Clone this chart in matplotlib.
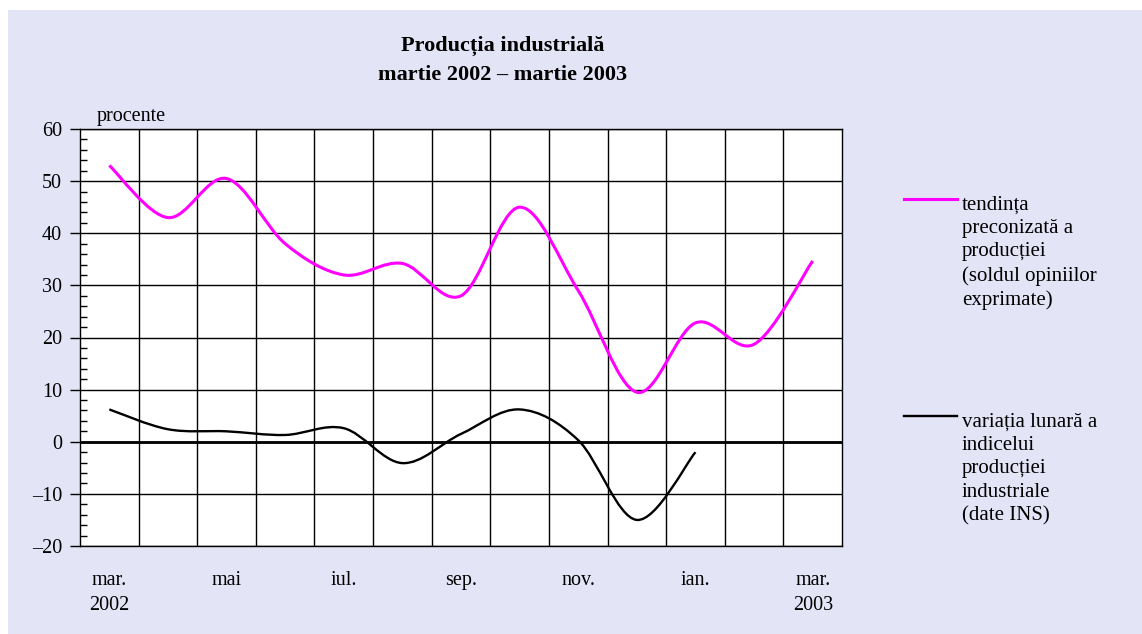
import numpy as np
import matplotlib
matplotlib.use("Agg")
from matplotlib import pyplot as plt
from matplotlib.path import Path
import matplotlib.patches as patches
from matplotlib.lines import Line2D

plt.rcParams['font.family'] = ['Liberation Serif', 'DejaVu Serif']

# data, months mar. 2002 .. mar. 2003
months = ['mar.\n2002', 'apr.', 'mai', 'iun.', 'iul.', 'aug.', 'sep.', 'oct.',
          'nov.', 'dec.', 'ian.', 'feb.', 'mar.\n2003']
tendinta = [53.0, 43.0, 50.5, 38.0, 32.0, 34.2, 28.0, 45.0, 29.0, 9.5, 22.8, 18.7, 34.7]
variatia = [6.2, 2.4, 2.0, 1.3, 2.6, -4.1, 1.5, 6.2, 0.3, -15.0, -2.0]

label_tend = 'tendința\npreconizată a\nproducției\n(soldul opiniilor\nexprimate)'
label_var = 'variația lunară a\nindicelui\nproducției\nindustriale\n(date INS)'


def smooth_path(xs, ys):
    # excel-like smoothed line: cubic bezier segments through the points
    xs = np.asarray(xs, float)
    ys = np.asarray(ys, float)
    n = len(xs)
    verts = [(xs[0], ys[0])]
    codes = [Path.MOVETO]
    for i in range(n - 1):
        p0 = np.array([xs[max(i - 1, 0)], ys[max(i - 1, 0)]])
        p1 = np.array([xs[i], ys[i]])
        p2 = np.array([xs[i + 1], ys[i + 1]])
        p3 = np.array([xs[min(i + 2, n - 1)], ys[min(i + 2, n - 1)]])
        c1 = p1 + (p2 - p0) / 6.0
        c2 = p2 - (p3 - p1) / 6.0
        verts += [tuple(c1), tuple(c2), tuple(p2)]
        codes += [Path.CURVE4] * 3
    return Path(verts, codes)


fig = plt.figure(figsize=(11.42, 6.34), dpi=100)
fig.patch.set_facecolor('white')
# dotted lavender backdrop
fig.add_artist(patches.Rectangle((8 / 1142, 0), 1 - 8 / 1142, 1 - 10 / 634,
                                 transform=fig.transFigure, facecolor='#e4e4f7',
                                 edgecolor='none', zorder=-10))

ax = fig.add_axes([80 / 1142, 1 - 546 / 634, 762 / 1142, 417 / 634])
ax.set_facecolor('white')
ax.set_xlim(-0.5, len(months) - 0.5)
ax.set_ylim(-20, 60)

# grid
ax.set_yticks(np.arange(-20, 61, 10))
ax.set_yticks(np.arange(-20, 61, 2), minor=True)
ax.set_xticks(np.arange(0, len(months), 2))
ax.set_xticklabels([months[i] for i in range(0, len(months), 2)])
ax.set_xticks(np.arange(0.5, len(months) - 1, 1), minor=True)
ax.grid(which='major', axis='y', color='black', lw=1)
ax.grid(which='minor', axis='x', color='black', lw=1)
ax.set_axisbelow(True)
ax.axhline(0, color='black', lw=2, zorder=2)

ax.tick_params(axis='y', which='major', direction='out', length=7, width=1,
               labelsize=14.5, pad=6)
ax.tick_params(axis='y', which='minor', direction='in', length=5, width=1)
ax.tick_params(axis='x', which='both', length=0, labelsize=14.5, pad=18)
for lbl in ax.get_xticklabels():
    lbl.set_linespacing(1.45)
ax.set_yticklabels([str(v).replace('-', '\u2013') for v in range(-20, 61, 10)])
for s in ax.spines.values():
    s.set_color('black')
    s.set_linewidth(1)

xs = np.arange(len(tendinta))
ax.add_patch(patches.PathPatch(smooth_path(xs, tendinta), facecolor='none',
                               edgecolor='#ff00ff', lw=2.2, zorder=3,
                               capstyle='butt'))
xs2 = np.arange(len(variatia))
ax.add_patch(patches.PathPatch(smooth_path(xs2, variatia), facecolor='none',
                               edgecolor='black', lw=1.7, zorder=3,
                               capstyle='butt'))

fig.text(97 / 1142, 1 - 116 / 634, 'procente', fontsize=14.5, ha='left',
         va='center')

fig.text(503 / 1142, 1 - 46 / 634, 'Producția industrială', fontsize=16,
         fontweight='bold', ha='center', va='center')
fig.text(503 / 1142, 1 - 75 / 634, 'martie 2002 \u2013 martie 2003', fontsize=16,
         fontweight='bold', ha='center', va='center')

# legend
fig.add_artist(Line2D([904 / 1142, 957 / 1142], [1 - 199 / 634] * 2,
                      color='#ff00ff', lw=2.2, transform=fig.transFigure))
fig.text(962 / 1142, 1 - 196 / 634, label_tend, fontsize=15, ha='left', va='top',
         linespacing=1.3)
fig.add_artist(Line2D([904 / 1142, 957 / 1142], [1 - 416 / 634] * 2,
                      color='black', lw=1.7, transform=fig.transFigure))
fig.text(962 / 1142, 1 - 413 / 634, label_var, fontsize=15, ha='left', va='top',
         linespacing=1.3)

fig.savefig('out.png', dpi=100)
